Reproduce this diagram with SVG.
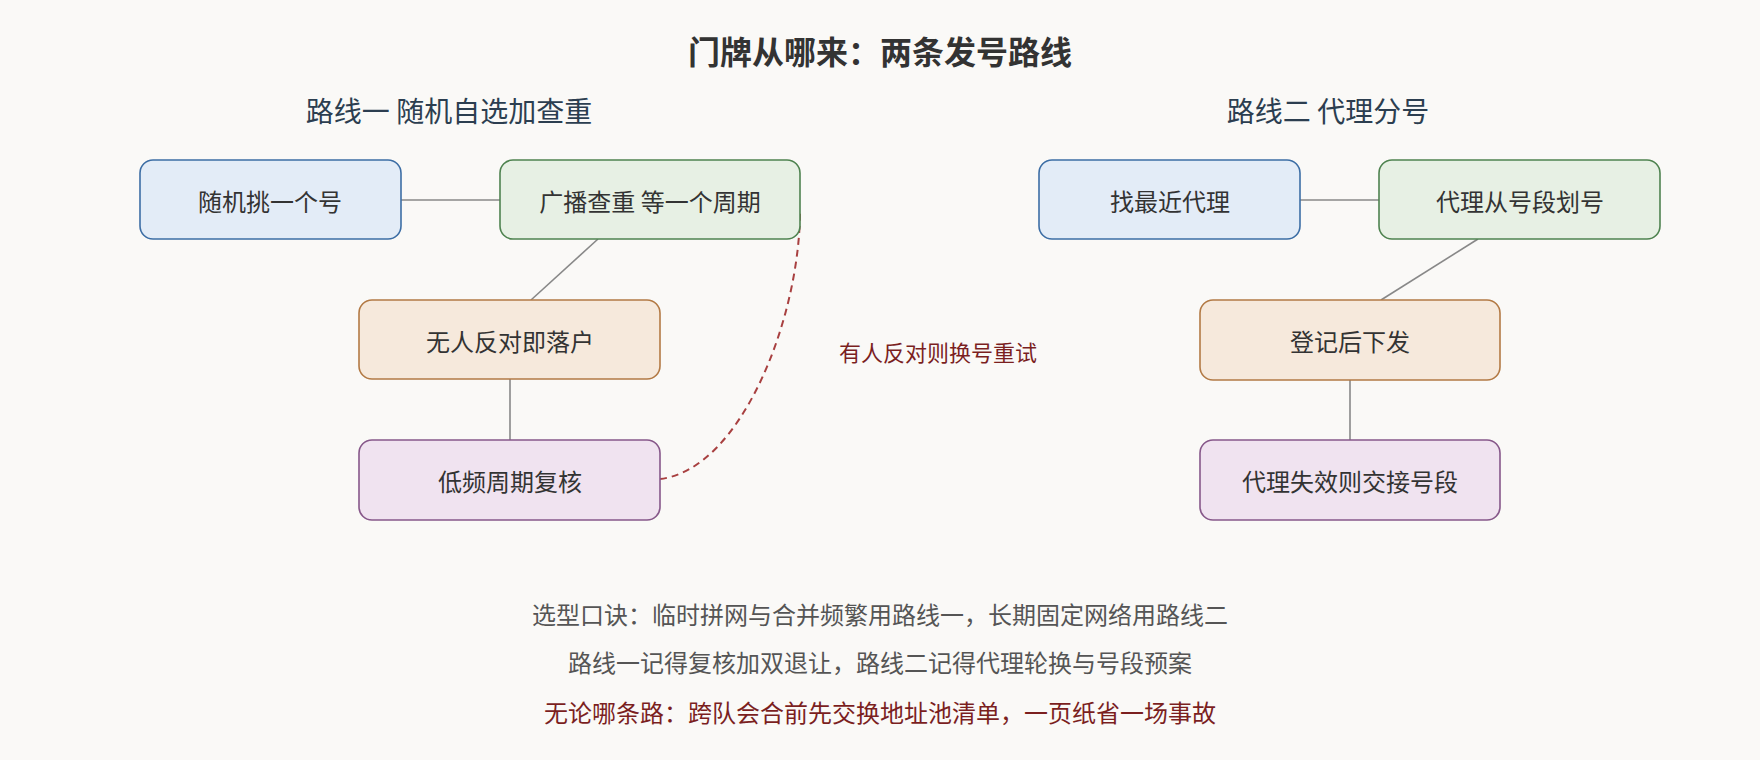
<svg xmlns="http://www.w3.org/2000/svg" width="1760" height="760" viewBox="0 0 1760 760">
<style>
text{font-family:"Noto Sans CJK SC","Noto Sans",sans-serif;text-anchor:middle;dominant-baseline:central}
.n{font-size:24px;fill:#333}
.b rect{fill:#e3ecf7;stroke:#3d6ea5;stroke-width:1.6}
.g rect{fill:#e7f0e4;stroke:#4f8350;stroke-width:1.6}
.o rect{fill:#f6e9dc;stroke:#b37a45;stroke-width:1.6}
.p rect{fill:#f0e3f0;stroke:#87588a;stroke-width:1.6}
.c line{stroke:#888;stroke-width:1.6}
.f{font-size:24px;fill:#555}
</style>
<rect width="1760" height="760" fill="#faf9f7"/>
<text x="880" y="50" style="font-size:32px;font-weight:bold;fill:#333">门牌从哪来：两条发号路线</text>
<text x="449" y="110" style="font-size:28px;fill:#2c3e50">路线一 随机自选加查重</text>
<text x="1328" y="110" style="font-size:28px;fill:#2c3e50">路线二 代理分号</text>
<g class="c">
<line x1="401" y1="200" x2="500" y2="200"/>
<line x1="598" y1="239" x2="531" y2="300"/>
<line x1="510" y1="379" x2="510" y2="440"/>
<line x1="1300" y1="200" x2="1379" y2="200"/>
<line x1="1478" y1="239" x2="1381" y2="300"/>
<line x1="1350" y1="380" x2="1350" y2="440"/>
<path d="M660,479 C740,470 800,320 800,210" fill="none" stroke="#a84040" stroke-width="2" stroke-dasharray="7,5"/>
</g>
<text x="938" y="351" style="font-size:22px;fill:#7b1f1f">有人反对则换号重试</text>
<g id="n1" class="b"><rect x="140" y="160" width="261" height="79" rx="13"/><text class="n" x="270" y="200">随机挑一个号</text></g>
<g id="n2" class="g"><rect x="500" y="160" width="300" height="79" rx="13"/><text class="n" x="650" y="200">广播查重 等一个周期</text></g>
<g id="n3" class="o"><rect x="359" y="300" width="301" height="79" rx="13"/><text class="n" x="510" y="340">无人反对即落户</text></g>
<g id="n4" class="p"><rect x="359" y="440" width="301" height="80" rx="13"/><text class="n" x="510" y="480">低频周期复核</text></g>
<g id="n5" class="b"><rect x="1039" y="160" width="261" height="79" rx="13"/><text class="n" x="1170" y="200">找最近代理</text></g>
<g id="n6" class="g"><rect x="1379" y="160" width="281" height="79" rx="13"/><text class="n" x="1520" y="200">代理从号段划号</text></g>
<g id="n7" class="o"><rect x="1200" y="300" width="300" height="80" rx="13"/><text class="n" x="1350" y="340">登记后下发</text></g>
<g id="n8" class="p"><rect x="1200" y="440" width="300" height="80" rx="13"/><text class="n" x="1350" y="480">代理失效则交接号段</text></g>
<text class="f" x="880" y="613">选型口诀：临时拼网与合并频繁用路线一，长期固定网络用路线二</text>
<text class="f" x="880" y="661">路线一记得复核加双退让，路线二记得代理轮换与号段预案</text>
<text class="f" x="880" y="711" style="fill:#7b1f1f">无论哪条路：跨队会合前先交换地址池清单，一页纸省一场事故</text>
</svg>
